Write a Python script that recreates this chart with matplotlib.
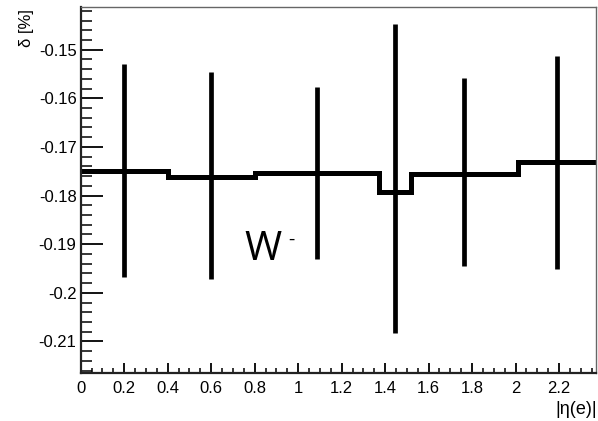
import matplotlib
matplotlib.use("Agg")
import matplotlib.pyplot as plt
from matplotlib.ticker import MultipleLocator, FuncFormatter

plt.rcParams['font.family'] = ['Liberation Sans', 'DejaVu Sans']
plt.rcParams['axes.unicode_minus'] = False

# Data
bin_edges = [0.0, 0.4, 0.8, 1.37, 1.52, 2.01, 2.37]
delta = [-0.1750, -0.1761, -0.1754, -0.1792, -0.1755, -0.1732]
err_low = [-0.1967, -0.1971, -0.1930, -0.2083, -0.1945, -0.1951]
err_high = [-0.1529, -0.1545, -0.1576, -0.1447, -0.1558, -0.1514]
x_ticks = [0, 0.2, 0.4, 0.6, 0.8, 1.0, 1.2, 1.4, 1.6, 1.8, 2.0, 2.2]
y_ticks = [-0.21, -0.20, -0.19, -0.18, -0.17, -0.16, -0.15]
label_text = "W"

centers = [(a + b) / 2 for a, b in zip(bin_edges[:-1], bin_edges[1:])]

fig = plt.figure(figsize=(5.98, 4.21), dpi=100)
ax = fig.add_axes([0.135, 0.114, 0.8617, 0.8696])

ax.stairs(delta, bin_edges, color='black', linewidth=3.6, baseline=None)
ax.vlines(centers, err_low, err_high, color='black', linewidth=3.4)

ax.set_xlim(0, 2.37)
ax.set_ylim(-0.2165, -0.1412)

ax.set_xticks(x_ticks)
ax.set_yticks(y_ticks)
ax.xaxis.set_minor_locator(MultipleLocator(0.05))
ax.yaxis.set_minor_locator(MultipleLocator(0.002))
fmt = FuncFormatter(lambda v, p: f"{v:g}")
ax.xaxis.set_major_formatter(fmt)
ax.yaxis.set_major_formatter(fmt)

ax.tick_params(axis='y', which='major', direction='in', length=16, width=1.3, labelsize=12, pad=3)
ax.tick_params(axis='y', which='minor', direction='in', length=8, width=1.1)
ax.tick_params(axis='x', which='major', direction='in', length=7, width=1.3, labelsize=12, pad=6)
ax.tick_params(axis='x', which='minor', direction='in', length=3.5, width=1.1)
ax.tick_params(top=False, right=False, which='both')

for s in ['left', 'bottom']:
    ax.spines[s].set_linewidth(1.6)
    ax.spines[s].set_color('#222222')
for s in ['top', 'right']:
    ax.spines[s].set_linewidth(1.0)
    ax.spines[s].set_color('#666666')

ax.text(0.755, -0.1932, label_text, fontsize=29, family=['Open Sans', 'DejaVu Sans'],
        ha='left', va='baseline', color='black')
ax.text(0.971, -0.1891, "-", fontsize=14, family=['Open Sans', 'DejaVu Sans'],
        ha='center', va='center', color='black')

fig.text(0.998, 1 - 414 / 421, "|η(e)|", fontsize=13, ha='right', va='baseline')
fig.text(27 / 598, 1 - 9 / 421, "δ [%]", fontsize=12, rotation=90, ha='center', va='top')

fig.savefig("out.png", dpi=100)
